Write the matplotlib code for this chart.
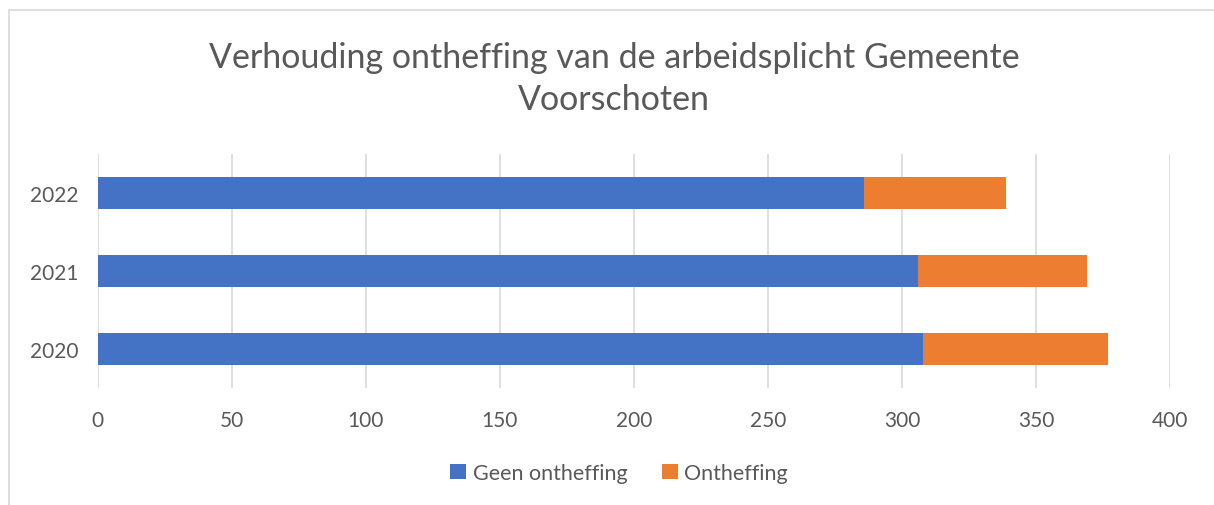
import matplotlib.pyplot as plt
from matplotlib.patches import Rectangle

# data
years = ['2020', '2021', '2022']
geen_ontheffing = [308, 306, 286]
ontheffing = [69, 63, 53]
x_ticks = [0, 50, 100, 150, 200, 250, 300, 350, 400]

text_color = '#595959'
plt.rcParams['font.family'] = ['Lato', 'DejaVu Sans']

fig = plt.figure(figsize=(12.14, 5.06), dpi=100)
W, H = 1214, 506

# chart frame (only top and left edge visible in the crop)
fig.patches.append(Rectangle((9 / W, -0.1), 1.2, (H - 11) / H + 0.1,
                             transform=fig.transFigure, fill=False,
                             edgecolor='#d9d9d9', linewidth=1.2))

ax = fig.add_axes([97.7 / W, 1 - 389 / H, (1170 - 97.7) / W, (389 - 155) / H])

ax.barh(years, geen_ontheffing, height=0.4, color='#4472c4', label='Geen ontheffing')
ax.barh(years, ontheffing, left=geen_ontheffing, height=0.4, color='#ed7d31', label='Ontheffing')

ax.set_xlim(0, 400)
ax.set_ylim(-0.5, 2.5)
ax.set_xticks(x_ticks)
ax.grid(axis='x', color='#d9d9d9', linewidth=1.2)
ax.set_axisbelow(True)
for s in ax.spines.values():
    s.set_visible(False)
ax.tick_params(length=0, labelsize=15, labelcolor=text_color)
ax.tick_params(axis='x', pad=16)
ax.tick_params(axis='y', pad=14)

fig.text(614 / W, 1 - 79 / H, 'Verhouding ontheffing van de arbeidsplicht Gemeente\nVoorschoten',
         ha='center', va='center', fontsize=24.5, color=text_color, linespacing=1.4)

fig.legend(loc='center', bbox_to_anchor=(619 / W, 1 - 474 / H), ncol=2, frameon=False,
           fontsize=15.5, labelcolor=text_color, handlelength=0.75, handleheight=0.75,
           handletextpad=0.3, columnspacing=1.6)

fig.savefig('out.png', dpi=100)
